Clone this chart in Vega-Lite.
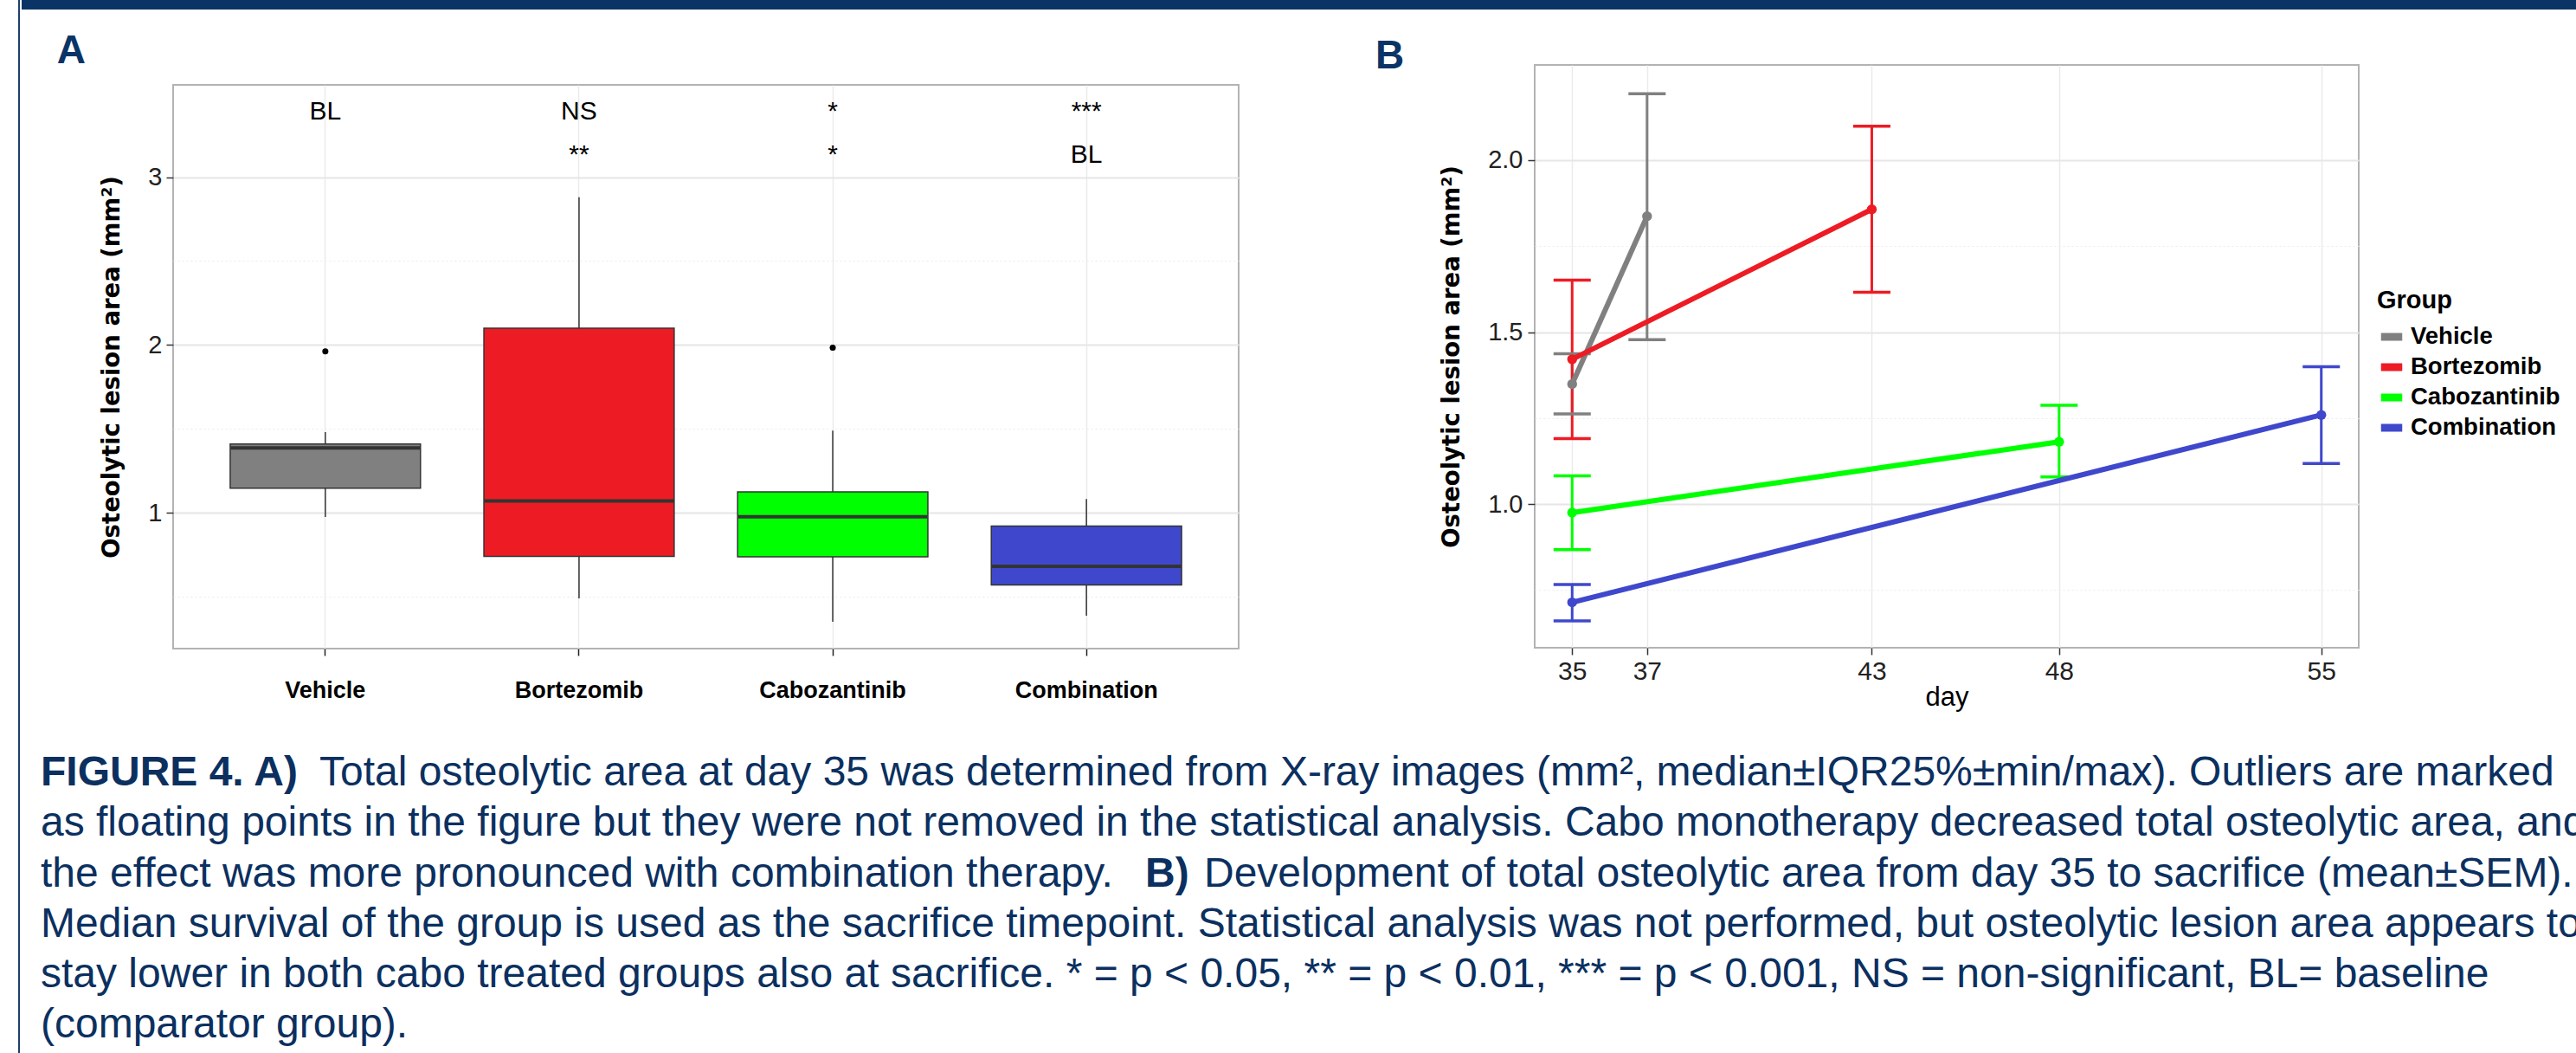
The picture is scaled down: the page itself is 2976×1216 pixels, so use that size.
{
  "$schema": "https://vega.github.io/schema/vega-lite/v6.json",
  "padding": {"left": 21, "top": 0, "right": 0, "bottom": 0},
  "background": "white",
  "config": {
    "view": {"stroke": null},
    "font": "Liberation Sans"
  },
  "datasets": {
    "boxes": [
      {"group": "Vehicle", "lower": 0.974, "q1": 1.146, "median": 1.386, "q3": 1.41, "upper": 1.48},
      {"group": "Bortezomib", "lower": 0.49, "q1": 0.74, "median": 1.07, "q3": 2.1, "upper": 2.88},
      {"group": "Cabozantinib", "lower": 0.35, "q1": 0.737, "median": 0.976, "q3": 1.124, "upper": 1.49},
      {"group": "Combination", "lower": 0.386, "q1": 0.57, "median": 0.68, "q3": 0.92, "upper": 1.081}
    ],
    "outliers": [
      {"group": "Vehicle", "value": 1.962},
      {"group": "Cabozantinib", "value": 1.984}
    ],
    "signif": [
      {"group": "Vehicle", "y": 3.39, "label": "BL"},
      {"group": "Bortezomib", "y": 3.39, "label": "NS"},
      {"group": "Cabozantinib", "y": 3.39, "label": "*"},
      {"group": "Combination", "y": 3.39, "label": "***"},
      {"group": "Bortezomib", "y": 3.13, "label": "**"},
      {"group": "Cabozantinib", "y": 3.13, "label": "*"},
      {"group": "Combination", "y": 3.13, "label": "BL"}
    ],
    "series": [
      {"group": "Vehicle", "day": 35, "mean": 1.349, "lo": 1.262, "hi": 1.437},
      {"group": "Vehicle", "day": 37, "mean": 1.837, "lo": 1.478, "hi": 2.193},
      {"group": "Bortezomib", "day": 35, "mean": 1.421, "lo": 1.19, "hi": 1.651},
      {"group": "Bortezomib", "day": 43, "mean": 1.857, "lo": 1.616, "hi": 2.099},
      {"group": "Cabozantinib", "day": 35, "mean": 0.975, "lo": 0.867, "hi": 1.082},
      {"group": "Cabozantinib", "day": 48, "mean": 1.181, "lo": 1.079, "hi": 1.287},
      {"group": "Combination", "day": 35, "mean": 0.714, "lo": 0.66, "hi": 0.766},
      {"group": "Combination", "day": 55, "mean": 1.259, "lo": 1.118, "hi": 1.399}
    ],
    "caption": [
      {"line": 1, "part": "head", "text": "FIGURE 4. A)"},
      {"line": 1, "part": "afterhead", "text": "Total osteolytic area at day 35 was determined from X-ray images (mm², median±IQR25%±min/max). Outliers are marked"},
      {"line": 2, "part": "body", "text": "as floating points in the figure but they were not removed in the statistical analysis. Cabo monotherapy decreased total osteolytic area, and"},
      {"line": 3, "part": "body", "text": "the effect was more pronounced with combination therapy."},
      {"line": 3, "part": "head2", "text": "B)"},
      {"line": 3, "part": "afterhead2", "text": "Development of total osteolytic area from day 35 to sacrifice (mean±SEM)."},
      {"line": 4, "part": "body", "text": "Median survival of the group is used as the sacrifice timepoint. Statistical analysis was not performed, but osteolytic lesion area appears to"},
      {"line": 5, "part": "body", "text": "stay lower in both cabo treated groups also at sacrifice. * = p < 0.05, ** = p < 0.01, *** = p < 0.001, NS = non-significant, BL= baseline"},
      {"line": 6, "part": "body", "text": "(comparator group)."}
    ]
  },
  "spacing": 2,
  "resolve": {"scale": {"color": "independent", "fill": "independent"}, "legend": {"color": "independent", "fill": "independent"}},
  "hconcat": [
    {
      "width": 2,
      "height": 1216,
      "view": {"fill": "#1f3f6e", "stroke": null},
      "data": {"values": [{}]},
      "mark": {"type": "point", "opacity": 0, "size": 0},
      "encoding": {}
    },
    {
      "spacing": 25,
      "resolve": {"scale": {"color": "independent", "fill": "independent"}, "legend": {"color": "independent", "fill": "independent"}},
      "vconcat": [
        {
          "width": 2951,
          "height": 11,
          "view": {"fill": "#0b3466", "stroke": null},
          "data": {"values": [{}]},
          "mark": {"type": "point", "opacity": 0, "size": 0},
          "encoding": {}
        },
        {
          "spacing": 39,
          "resolve": {"scale": {"color": "independent", "fill": "independent"}, "legend": {"color": "independent", "fill": "independent"}},
          "hconcat": [
            {
              "width": 1,
              "height": 1,
              "data": {"values": [{}]},
              "mark": {"type": "point", "opacity": 0, "size": 0},
              "encoding": {}
            },
            {
              "spacing": 156,
              "resolve": {"scale": {"color": "independent", "fill": "independent"}, "legend": {"color": "independent", "fill": "independent"}},
              "hconcat": [
                {
                  "title": {"text": "A", "anchor": "start", "frame": "bounds", "dx": -49, "offset": -8, "font": "Liberation Sans", "fontSize": 46, "fontWeight": "bold", "color": "#0b3466"},
                  "spacing": 20,
                  "vconcat": [
                    {
                      "width": 1,
                      "height": 2,
                      "data": {"values": [{}]},
                      "mark": {"type": "point", "opacity": 0, "size": 0},
                      "encoding": {}
                    },
                    {
                      "width": 1231,
                      "height": 651,
                      "view": {"stroke": "#b3b3b3", "strokeWidth": 2},
                      "encoding": {
                        "x": {
                          "field": "group", "type": "nominal",
                          "sort": ["Vehicle", "Bortezomib", "Cabozantinib", "Combination"],
                          "scale": {"type": "band", "domain": ["Vehicle", "Bortezomib", "Cabozantinib", "Combination"], "paddingInner": 0, "paddingOuter": 0.1},
                          "axis": {"title": null, "domain": false, "labelAngle": 0, "labelFont": "Liberation Sans", "labelFontSize": 27, "labelFontWeight": "bold", "labelColor": "black", "labelPadding": 27, "tickSize": 8, "tickColor": "#222222", "tickWidth": 1.5, "grid": true, "gridColor": "#ebebeb", "gridWidth": 1.5, "bandPosition": 0.5}
                        }
                      },
                      "layer": [
                        {
                          "data": {"name": "boxes"},
                          "mark": {"type": "rule", "color": "#333333", "strokeWidth": 1.5},
                          "encoding": {
                            "y": {
                              "field": "lower", "type": "quantitative",
                              "scale": {"domain": [0.19, 3.55], "nice": false, "zero": false},
                              "axis": {
                                "title": "Osteolytic lesion area (mm²)", "titleFont": "DejaVu Sans", "titleFontSize": 27.5, "titleFontWeight": "bold", "titleColor": "black", "titlePadding": 27,
                                "values": [0.5, 1, 1.5, 2, 2.5, 3], "format": ".0f",
                                "labelExpr": "datum.value % 1 === 0 ? datum.label : ''",
                                "labelFont": "Liberation Sans", "labelFontSize": 29, "labelColor": "#222222", "labelPadding": 5,
                                "tickSize": 8, "tickColor": "#333333", "tickWidth": 1.5,
                                "tickOpacity": {"condition": {"test": "datum.value % 1 !== 0", "value": 0}, "value": 1},
                                "domain": false, "grid": true,
                                "gridColor": {"condition": {"test": "datum.value % 1 !== 0", "value": "#ececec"}, "value": "#e6e6e6"},
                                "gridWidth": {"condition": {"test": "datum.value % 1 !== 0", "value": 1.2}, "value": 2},
                                "gridDash": {"condition": {"test": "datum.value % 1 !== 0", "value": [2, 3]}, "value": []}
                              }
                            },
                            "y2": {"field": "upper"}
                          }
                        },
                        {
                          "data": {"name": "boxes"},
                          "mark": {"type": "bar", "width": {"band": 0.75}, "stroke": "#333333", "strokeWidth": 1.5},
                          "encoding": {
                            "y": {"field": "q1", "type": "quantitative"},
                            "y2": {"field": "q3"},
                            "fill": {
                              "field": "group", "type": "nominal",
                              "scale": {"domain": ["Vehicle", "Bortezomib", "Cabozantinib", "Combination"], "range": ["#808080", "#ED1C24", "#00FF00", "#3F48CC"]},
                              "legend": null
                            }
                          }
                        },
                        {
                          "data": {"name": "boxes"},
                          "mark": {"type": "tick", "orient": "horizontal", "size": 219, "thickness": 4, "color": "#333333", "opacity": 1},
                          "encoding": {"y": {"field": "median", "type": "quantitative"}}
                        },
                        {
                          "data": {"name": "outliers"},
                          "mark": {"type": "point", "filled": true, "color": "black", "size": 50, "opacity": 1},
                          "encoding": {"y": {"field": "value", "type": "quantitative"}}
                        },
                        {
                          "data": {"name": "signif"},
                          "mark": {"type": "text", "font": "Liberation Sans", "fontSize": 30, "color": "black", "baseline": "middle", "align": "center"},
                          "encoding": {
                            "y": {"field": "y", "type": "quantitative"},
                            "text": {"field": "label", "type": "nominal"}
                          }
                        }
                      ]
                    }
                  ]
                },
                {
                  "width": 952,
                  "height": 673,
                  "view": {"stroke": "#b3b3b3", "strokeWidth": 2},
                  "title": {"text": "B", "anchor": "start", "frame": "group", "dx": -184, "offset": -14, "font": "Liberation Sans", "fontSize": 46, "fontWeight": "bold", "color": "#0b3466"},
                  "data": {"name": "series"},
                  "encoding": {
                    "x": {
                      "field": "day", "type": "quantitative",
                      "scale": {"domain": [34, 56], "nice": false, "zero": false},
                      "axis": {"title": "day", "titleFont": "Liberation Sans", "titleFontSize": 31, "titleFontWeight": "normal", "titleColor": "black", "titlePadding": 0, "values": [35, 37, 43, 48, 55], "format": "d", "labelFont": "Liberation Sans", "labelFontSize": 30, "labelColor": "#222222", "labelPadding": 4, "labelOverlap": false, "labelFlush": false, "tickSize": 8, "tickColor": "#333333", "tickWidth": 1.5, "domain": false, "grid": true, "gridColor": "#ebebeb", "gridWidth": 1.5}
                    },
                    "color": {
                      "field": "group", "type": "nominal",
                      "scale": {"domain": ["Vehicle", "Bortezomib", "Cabozantinib", "Combination"], "range": ["#808080", "#ED1C24", "#00FF00", "#3F48CC"]},
                      "legend": {"title": "Group", "orient": "none", "legendX": 973, "legendY": 258, "symbolType": "stroke", "symbolStrokeWidth": 9, "symbolSize": 600, "symbolOpacity": 1, "labelFont": "Liberation Sans", "labelFontSize": 27.5, "labelFontWeight": "bold", "labelColor": "black", "labelOffset": 5, "labelLimit": 0, "titleFont": "Liberation Sans", "titleFontSize": 29, "titleFontWeight": "bold", "titleColor": "black", "titlePadding": 10, "rowPadding": -2, "padding": 0}
                    }
                  },
                  "layer": [
                    {
                      "mark": {"type": "rule", "strokeWidth": 3},
                      "encoding": {
                        "y": {
                          "field": "lo", "type": "quantitative",
                          "scale": {"domain": [0.582, 2.277], "nice": false, "zero": false},
                          "axis": {
                            "title": "Osteolytic lesion area (mm²)", "titleFont": "DejaVu Sans", "titleFontSize": 27.5, "titleFontWeight": "bold", "titleColor": "black", "titlePadding": 27,
                            "values": [0.75, 1, 1.25, 1.5, 1.75, 2], "format": ".1f",
                            "labelExpr": "(datum.value * 2) % 1 === 0 ? datum.label : ''",
                            "labelFont": "Liberation Sans", "labelFontSize": 29, "labelColor": "#222222", "labelPadding": 6,
                            "tickSize": 8, "tickColor": "#333333", "tickWidth": 1.5,
                            "tickOpacity": {"condition": {"test": "(datum.value * 2) % 1 !== 0", "value": 0}, "value": 1},
                            "domain": false, "grid": true,
                            "gridColor": {"condition": {"test": "(datum.value * 2) % 1 !== 0", "value": "#ececec"}, "value": "#e6e6e6"},
                            "gridWidth": {"condition": {"test": "(datum.value * 2) % 1 !== 0", "value": 1.2}, "value": 2},
                            "gridDash": {"condition": {"test": "(datum.value * 2) % 1 !== 0", "value": [2, 3]}, "value": []}
                          }
                        },
                        "y2": {"field": "hi"}
                      }
                    },
                    {
                      "mark": {"type": "tick", "orient": "horizontal", "size": 43, "thickness": 3.5, "opacity": 1},
                      "encoding": {"y": {"field": "lo", "type": "quantitative"}}
                    },
                    {
                      "mark": {"type": "tick", "orient": "horizontal", "size": 43, "thickness": 3.5, "opacity": 1},
                      "encoding": {"y": {"field": "hi", "type": "quantitative"}}
                    },
                    {
                      "mark": {"type": "line", "strokeWidth": 6},
                      "encoding": {"y": {"field": "mean", "type": "quantitative"}}
                    },
                    {
                      "mark": {"type": "point", "filled": true, "size": 130, "opacity": 1},
                      "encoding": {"y": {"field": "mean", "type": "quantitative"}}
                    }
                  ]
                }
              ]
            }
          ]
        },
        {
          "width": 2951,
          "height": 372,
          "data": {"name": "caption"},
          "encoding": {
            "y": {"field": "line", "type": "quantitative", "scale": {"domain": [-0.046, 6.335], "reverse": true, "nice": false, "zero": false}, "axis": null},
            "text": {"field": "text", "type": "nominal"}
          },
          "layer": [
            {
              "transform": [{"filter": "datum.part === 'body'"}],
              "mark": {"type": "text", "x": 22, "align": "left", "baseline": "alphabetic", "font": "Liberation Sans", "fontSize": 48, "color": "#0b3060", "clip": true}
            },
            {
              "transform": [{"filter": "datum.part === 'head'"}],
              "mark": {"type": "text", "x": 22, "align": "left", "baseline": "alphabetic", "font": "Liberation Sans", "fontSize": 48, "fontWeight": "bold", "color": "#0b3060", "clip": true}
            },
            {
              "transform": [{"filter": "datum.part === 'afterhead'"}],
              "mark": {"type": "text", "x": 22, "dx": 322, "align": "left", "baseline": "alphabetic", "font": "Liberation Sans", "fontSize": 48, "color": "#0b3060", "clip": true}
            },
            {
              "transform": [{"filter": "datum.part === 'head2'"}],
              "mark": {"type": "text", "x": 22, "dx": 1276, "align": "left", "baseline": "alphabetic", "font": "Liberation Sans", "fontSize": 48, "fontWeight": "bold", "color": "#0b3060", "clip": true}
            },
            {
              "transform": [{"filter": "datum.part === 'afterhead2'"}],
              "mark": {"type": "text", "x": 22, "dx": 1344, "align": "left", "baseline": "alphabetic", "font": "Liberation Sans", "fontSize": 48, "color": "#0b3060", "clip": true}
            }
          ]
        }
      ]
    }
  ]
}
